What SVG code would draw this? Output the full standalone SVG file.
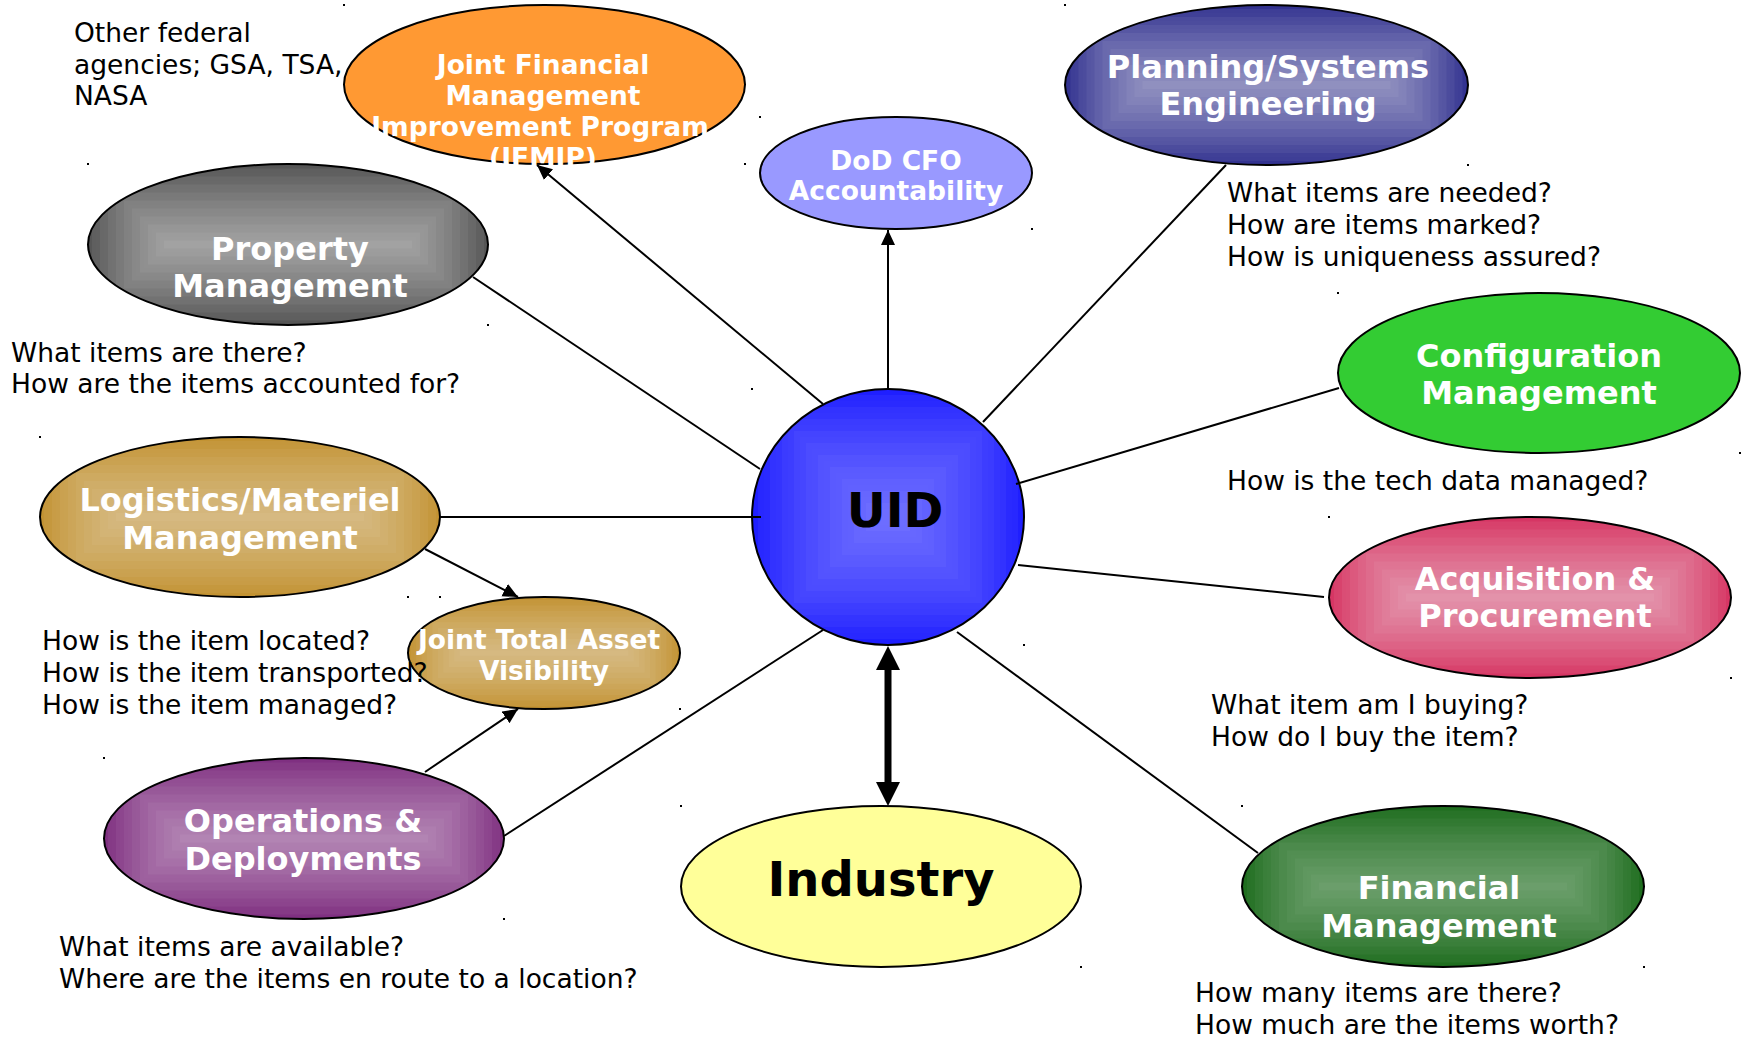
<svg xmlns="http://www.w3.org/2000/svg" xmlns:xlink="http://www.w3.org/1999/xlink" width="1742" height="1037" viewBox="0 0 1742 1037">
<style>
.bg{fill:#ffffff}
.outline{fill:none;stroke:#000;stroke-width:2}
.a{fill:#fff;fill-opacity:.01}
.b{fill:#fff;fill-opacity:.055}
.lbl{font-family:"DejaVu Sans","Liberation Sans",sans-serif;font-weight:bold;fill:#fff;text-anchor:middle}
.big{font-family:"DejaVu Sans","Liberation Sans",sans-serif;font-weight:bold;fill:#000;text-anchor:middle;font-size:48px}
.l32{font-size:32px}
.l26{font-size:26.5px}
.q{font-family:"DejaVu Sans","Liberation Sans",sans-serif;font-size:26.5px;fill:#000}
.con{stroke:#000;stroke-width:2;fill:none}
.thick{stroke:#000;stroke-width:7;fill:none}
.dot{fill:#000}
</style>
<defs>
<marker id="arr" markerUnits="userSpaceOnUse" markerWidth="16" markerHeight="16" refX="15" refY="7" orient="auto"><path d="M0,0 L15,7 L0,14 z" fill="#000"/></marker>
<marker id="bigEnd" markerUnits="userSpaceOnUse" markerWidth="26" markerHeight="26" refX="4" refY="12" orient="auto"><path d="M0,0 L24,12 L0,24 z" fill="#000"/></marker>
<marker id="bigStart" markerUnits="userSpaceOnUse" markerWidth="26" markerHeight="26" refX="20" refY="12" orient="auto"><path d="M24,0 L0,12 L24,24 z" fill="#000"/></marker>
<g id="bevelW">
<rect class="a" x="-200" y="-80" width="400" height="160"/>
<rect class="b" x="-196" y="-76" width="392" height="152"/>
<rect class="a" x="-192" y="-72" width="384" height="144"/>
<rect class="b" x="-188" y="-68" width="376" height="136"/>
<rect class="a" x="-184" y="-64" width="368" height="128"/>
<rect class="b" x="-180" y="-60" width="360" height="120"/>
<rect class="a" x="-176" y="-56" width="352" height="112"/>
<rect class="b" x="-172" y="-52" width="344" height="104"/>
<rect class="a" x="-168" y="-48" width="336" height="96"/>
<rect class="b" x="-164" y="-44" width="328" height="88"/>
<rect class="a" x="-160" y="-40" width="320" height="80"/>
<rect class="b" x="-156" y="-36" width="312" height="72"/>
<rect class="a" x="-152" y="-32" width="304" height="64"/>
<rect class="b" x="-148" y="-28" width="296" height="56"/>
<rect class="a" x="-144" y="-24" width="288" height="48"/>
<rect class="b" x="-140" y="-20" width="280" height="40"/>
<rect class="a" x="-136" y="-16" width="272" height="32"/>
<rect class="b" x="-132" y="-12" width="264" height="24"/>
<rect class="a" x="-128" y="-8" width="256" height="16"/>
<rect class="b" x="-124" y="-4" width="248" height="8"/>
</g>
<g id="bevelR">
<rect class="a" x="-136" y="-128" width="272" height="256"/>
<rect class="b" x="-130" y="-122" width="260" height="244"/>
<rect class="a" x="-124" y="-116" width="248" height="232"/>
<rect class="b" x="-118" y="-110" width="236" height="220"/>
<rect class="a" x="-112" y="-104" width="224" height="208"/>
<rect class="b" x="-106" y="-98" width="212" height="196"/>
<rect class="a" x="-100" y="-92" width="200" height="184"/>
<rect class="b" x="-94" y="-86" width="188" height="172"/>
<rect class="a" x="-88" y="-80" width="176" height="160"/>
<rect class="b" x="-82" y="-74" width="164" height="148"/>
<rect class="a" x="-76" y="-68" width="152" height="136"/>
<rect class="b" x="-70" y="-62" width="140" height="124"/>
<rect class="a" x="-64" y="-56" width="128" height="112"/>
<rect class="b" x="-58" y="-50" width="116" height="100"/>
<rect class="a" x="-52" y="-44" width="104" height="88"/>
<rect class="b" x="-46" y="-38" width="92" height="76"/>
<rect class="a" x="-40" y="-32" width="80" height="64"/>
<rect class="b" x="-34" y="-26" width="68" height="52"/>
<rect class="a" x="-28" y="-20" width="56" height="40"/>
<rect class="b" x="-22" y="-14" width="44" height="28"/>
<rect class="a" x="-16" y="-8" width="32" height="16"/>
</g>
<clipPath id="cProp"><ellipse cx="288" cy="244.5" rx="200" ry="80.5"/></clipPath>
<clipPath id="cPlan"><ellipse cx="1266.5" cy="85" rx="201.5" ry="80"/></clipPath>
<clipPath id="cLog"><ellipse cx="240" cy="517" rx="200" ry="80"/></clipPath>
<clipPath id="cJtav"><ellipse cx="544" cy="653" rx="136" ry="56"/></clipPath>
<clipPath id="cAcq"><ellipse cx="1530" cy="597.5" rx="201" ry="80.5"/></clipPath>
<clipPath id="cOps"><ellipse cx="304" cy="838.5" rx="200" ry="80.5"/></clipPath>
<clipPath id="cFin"><ellipse cx="1443" cy="886.5" rx="201" ry="80.5"/></clipPath>
<clipPath id="cUid"><ellipse cx="888" cy="517" rx="136" ry="128"/></clipPath>
</defs>
<rect class="bg" x="0" y="0" width="1742" height="1037"/>

<g id="node-jfmip">
<ellipse cx="544.5" cy="84.5" rx="200.5" ry="79.5" fill="#ff9933"/>
<ellipse class="outline" cx="544.5" cy="84.5" rx="200.5" ry="79.5"/>
<text class="lbl l26"><tspan x="543" y="74">Joint Financial</tspan><tspan x="543" y="105">Management</tspan><tspan x="540" y="136">Improvement Program</tspan><tspan x="543" y="167">(JFMIP)</tspan></text>
<rect class="dot" x="343" y="4" width="2" height="2"/><rect class="dot" x="744" y="163" width="2" height="2"/>
</g>

<g id="node-dodcfo">
<ellipse cx="896" cy="173" rx="136" ry="56" fill="#9999ff"/>
<ellipse class="outline" cx="896" cy="173" rx="136" ry="56"/>
<text class="lbl l26"><tspan x="896" y="170">DoD CFO</tspan><tspan x="896" y="200">Accountability</tspan></text>
<rect class="dot" x="759" y="116" width="2" height="2"/><rect class="dot" x="1031" y="228" width="2" height="2"/>
</g>

<g id="node-planning">
<ellipse cx="1266.5" cy="85" rx="201.5" ry="80" fill="#31318f"/>
<g clip-path="url(#cPlan)"><use xlink:href="#bevelW" transform="translate(1266.5,85)"/></g>
<ellipse class="outline" cx="1266.5" cy="85" rx="201.5" ry="80"/>
<text class="lbl l32"><tspan x="1268" y="78">Planning/Systems</tspan><tspan x="1268" y="115">Engineering</tspan></text>
<rect class="dot" x="1064" y="4" width="2" height="2"/><rect class="dot" x="1467" y="164" width="2" height="2"/>
</g>

<g id="node-property">
<ellipse cx="288" cy="244.5" rx="200" ry="80.5" fill="#545454"/>
<g clip-path="url(#cProp)"><use xlink:href="#bevelW" transform="translate(288,244.5)"/></g>
<ellipse class="outline" cx="288" cy="244.5" rx="200" ry="80.5"/>
<text class="lbl l32"><tspan x="290" y="260">Property</tspan><tspan x="290" y="297">Management</tspan></text>
<rect class="dot" x="87" y="163" width="2" height="2"/><rect class="dot" x="487" y="324" width="2" height="2"/>
</g>

<g id="node-config">
<ellipse cx="1539" cy="373" rx="201" ry="80" fill="#33cc33"/>
<ellipse class="outline" cx="1539" cy="373" rx="201" ry="80"/>
<text class="lbl l32"><tspan x="1539" y="367">Configuration</tspan><tspan x="1539" y="404">Management</tspan></text>
<rect class="dot" x="1337" y="292" width="2" height="2"/><rect class="dot" x="1739" y="452" width="2" height="2"/>
</g>

<g id="node-logistics">
<ellipse cx="240" cy="517" rx="200" ry="80" fill="#c39232"/>
<g clip-path="url(#cLog)" opacity="0.85"><use xlink:href="#bevelW" transform="translate(240,517)"/></g>
<ellipse class="outline" cx="240" cy="517" rx="200" ry="80"/>
<text class="lbl l32"><tspan x="240" y="511">Logistics/Materiel</tspan><tspan x="240" y="549">Management</tspan></text>
<rect class="dot" x="39" y="436" width="2" height="2"/><rect class="dot" x="439" y="596" width="2" height="2"/>
</g>

<g id="node-jtav">
<ellipse cx="544" cy="653" rx="136" ry="56" fill="#c39232"/>
<g clip-path="url(#cJtav)" opacity="0.85"><use xlink:href="#bevelW" transform="translate(544,653) scale(0.68,0.7)"/></g>
<ellipse class="outline" cx="544" cy="653" rx="136" ry="56"/>
<text class="lbl l26"><tspan x="539" y="649">Joint Total Asset</tspan><tspan x="544" y="680">Visibility</tspan></text>
<rect class="dot" x="407" y="596" width="2" height="2"/><rect class="dot" x="679" y="708" width="2" height="2"/>
</g>

<g id="node-uid">
<ellipse cx="888" cy="517" rx="136" ry="128" fill="#1f1fff"/>
<g clip-path="url(#cUid)" opacity="0.75"><use xlink:href="#bevelR" transform="translate(888,517)"/></g>
<ellipse class="outline" cx="888" cy="517" rx="136" ry="128"/>
<text class="big" x="895" y="527">UID</text>
<rect class="dot" x="751" y="388" width="2" height="2"/><rect class="dot" x="1023" y="644" width="2" height="2"/>
</g>

<g id="node-acquisition">
<ellipse cx="1530" cy="597.5" rx="201" ry="80.5" fill="#d63463"/>
<g clip-path="url(#cAcq)"><use xlink:href="#bevelW" transform="translate(1530,597.5)"/></g>
<ellipse class="outline" cx="1530" cy="597.5" rx="201" ry="80.5"/>
<text class="lbl l32"><tspan x="1535" y="590">Acquisition &amp;</tspan><tspan x="1535" y="627">Procurement</tspan></text>
<rect class="dot" x="1328" y="516" width="2" height="2"/><rect class="dot" x="1730" y="677" width="2" height="2"/>
</g>

<g id="node-operations">
<ellipse cx="304" cy="838.5" rx="200" ry="80.5" fill="#7f2f80"/>
<g clip-path="url(#cOps)" opacity="0.9"><use xlink:href="#bevelW" transform="translate(304,838.5)"/></g>
<ellipse class="outline" cx="304" cy="838.5" rx="200" ry="80.5"/>
<text class="lbl l32"><tspan x="303" y="832">Operations &amp;</tspan><tspan x="303" y="870">Deployments</tspan></text>
<rect class="dot" x="103" y="757" width="2" height="2"/><rect class="dot" x="503" y="918" width="2" height="2"/>
</g>

<g id="node-industry">
<ellipse cx="881" cy="886.5" rx="200" ry="80.5" fill="#ffff99"/>
<ellipse class="outline" cx="881" cy="886.5" rx="200" ry="80.5"/>
<text class="big" x="881" y="896">Industry</text>
<rect class="dot" x="680" y="805" width="2" height="2"/><rect class="dot" x="1080" y="966" width="2" height="2"/>
</g>

<g id="node-financial">
<ellipse cx="1443" cy="886.5" rx="201" ry="80.5" fill="#1e6e1e"/>
<g clip-path="url(#cFin)" opacity="0.75"><use xlink:href="#bevelW" transform="translate(1443,886.5)"/></g>
<ellipse class="outline" cx="1443" cy="886.5" rx="201" ry="80.5"/>
<text class="lbl l32"><tspan x="1439" y="899">Financial</tspan><tspan x="1439" y="937">Management</tspan></text>
<rect class="dot" x="1241" y="805" width="2" height="2"/><rect class="dot" x="1643" y="966" width="2" height="2"/>
</g>

<g id="connectors">
<line class="con" x1="823" y1="404" x2="537" y2="165" marker-end="url(#arr)"/>
<line class="con" x1="888" y1="389" x2="888" y2="230" marker-end="url(#arr)"/>
<line class="con" x1="983" y1="422" x2="1226" y2="165"/>
<line class="con" x1="473" y1="277" x2="760" y2="469"/>
<line class="con" x1="1016" y1="484" x2="1339" y2="388"/>
<line class="con" x1="440" y1="517" x2="761" y2="517"/>
<line class="con" x1="1018" y1="565" x2="1324" y2="597"/>
<line class="con" x1="504" y1="836" x2="823" y2="630"/>
<line class="con" x1="957" y1="632" x2="1258" y2="853"/>
<line class="con" x1="425" y1="549" x2="518" y2="597" marker-end="url(#arr)"/>
<line class="con" x1="425" y1="772" x2="518" y2="709" marker-end="url(#arr)"/>
<line class="thick" x1="888" y1="666" x2="888" y2="786" marker-start="url(#bigStart)" marker-end="url(#bigEnd)"/>
</g>

<g id="notes">
<text class="q"><tspan x="74" y="42">Other federal</tspan><tspan x="74" y="74">agencies; GSA, TSA,</tspan><tspan x="74" y="105">NASA</tspan></text>
<text class="q"><tspan x="11" y="362">What items are there?</tspan><tspan x="11" y="393">How are the items accounted for?</tspan></text>
<text class="q"><tspan x="1227" y="202">What items are needed?</tspan><tspan x="1227" y="234">How are items marked?</tspan><tspan x="1227" y="266">How is uniqueness assured?</tspan></text>
<text class="q" x="1227" y="490">How is the tech data managed?</text>
<text class="q"><tspan x="42" y="650">How is the item located?</tspan><tspan x="42" y="682">How is the item transported?</tspan><tspan x="42" y="714">How is the item managed?</tspan></text>
<text class="q"><tspan x="59" y="956">What items are available?</tspan><tspan x="59" y="988">Where are the items en route to a location?</tspan></text>
<text class="q"><tspan x="1211" y="714">What item am I buying?</tspan><tspan x="1211" y="746">How do I buy the item?</tspan></text>
<text class="q"><tspan x="1195" y="1002">How many items are there?</tspan><tspan x="1195" y="1034">How much are the items worth?</tspan></text>
</g>
</svg>
